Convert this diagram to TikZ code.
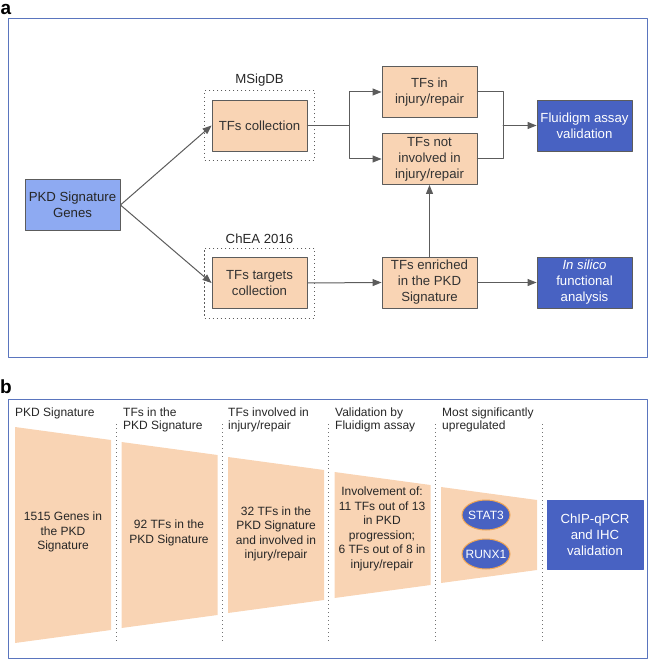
\documentclass[tikz,border=0pt]{standalone}
\usepackage{fontspec}
\setmainfont{Liberation Sans}
\usetikzlibrary{arrows.meta, calc, fit, shapes.geometric}

\definecolor{frameblue}{HTML}{5A75BE}
\definecolor{geneblue}{HTML}{8EAAF2}
\definecolor{deepblue}{HTML}{4862C2}
\definecolor{peach}{HTML}{F9D4B4}
\definecolor{wire}{HTML}{5C5C5C}
\definecolor{rim}{HTML}{F0A654}

\begin{document}
\begin{tikzpicture}[line cap=round,line join=round,>={Triangle[length=9pt,width=7pt]},x=1pt,y=-1pt,
  box/.style={draw=wire,line width=0.9pt,minimum width=95pt,minimum height=51pt,inner sep=1pt,align=center,font=\fontsize{13.2}{16}\selectfont},
  tfbox/.style={box,fill=peach,text=black!80},
  genebox/.style={box,fill=geneblue,text=black!85},
  resbox/.style={box,fill=deepblue,text=white},
  dbbox/.style={draw=wire,line width=0.9pt,dash pattern=on 1.3pt off 2.7pt,line cap=butt,inner xsep=7pt,inner ysep=9pt},
  wirearrow/.style={draw=wire,line width=1pt},
  sepline/.style={draw=black!55,line width=0.9pt,dash pattern=on 1.3pt off 2.7pt,line cap=butt},
  head/.style={anchor=north west,align=left,inner sep=0pt,font=\fontsize{12}{13.5}\selectfont,text=black!85},
  inner/.style={align=center,inner sep=0pt,font=\fontsize{12}{14.5}\selectfont,text=black!85},
  tf/.style={ellipse,fill=deepblue,draw=rim,line width=1pt,text=white,inner xsep=-3.5pt,inner ysep=0pt,minimum width=48pt,minimum height=30pt,font=\fontsize{12}{14}\selectfont}]

\useasboundingbox (0,0) rectangle (649,660);

% panel a
\node[font=\bfseries\fontsize{19}{19}\selectfont,inner sep=0pt] (panela) at (6,9) {a};
\draw[frameblue,line width=1pt] (8,19) rectangle (647,357);

\node[genebox] (pkd) at (72.5,205) {PKD Signature\\Genes};
\node[tfbox] (coll) at (259.5,125.5) {TFs collection};
\node[tfbox] (targ) at (259.5,283) {TFs targets\\collection};
\node[tfbox] (inj) at (429.5,92) {TFs in\\injury/repair};
\node[tfbox] (notinj) at (429.5,159) {TFs not\\involved in\\injury/repair};
\node[tfbox] (enr) at (429.5,282.5) {TFs enriched\\in the PKD\\Signature};
\node[resbox] (flu) at (584.5,125.5) {Fluidigm assay\\validation};
\node[resbox] (sil) at (584.5,282.5) {\textit{In silico}\\functional\\analysis};

\node[dbbox,fit=(coll),label={[font=\fontsize{13.2}{16}\selectfont,text=black!85,label distance=0pt]above:MSigDB}] (msig) {};
\node[dbbox,fit=(targ),label={[font=\fontsize{13.2}{16}\selectfont,text=black!85,label distance=0pt]above:ChEA 2016}] (chea) {};

\coordinate (split) at (349,125.5);
\coordinate (join) at (503,125.5);

\draw[wirearrow,->] (pkd.east) -- (coll.west);
\draw[wirearrow,->] (pkd.east) -- (targ.west);
\draw[wirearrow] (coll.east) -- (split);
\draw[wirearrow,->] (split) |- (inj.west);
\draw[wirearrow,->] (split) |- (notinj.west);
\draw[wirearrow] (inj.east) -| (join);
\draw[wirearrow] (notinj.east) -| (join);
\draw[wirearrow,->] (join) -- (flu.west);
\draw[wirearrow,->] (targ.east) -- (enr.west);
\draw[wirearrow,->] (enr.east) -- (sil.west);
\draw[wirearrow,->] (enr.north) -- (notinj.south);

% panel b
\node[font=\bfseries\fontsize{19}{19}\selectfont,inner sep=0pt] (panelb) at (6,387) {b};
\draw[frameblue,line width=1pt] (8,399) rectangle (647,658);

\foreach \i in {0,...,4}{
  \pgfmathsetmacro{\xl}{15+106.5*\i}
  \fill[peach] (\xl,427+15*\i) -- (\xl+96,440+15*\i) -- (\xl+96,630-15*\i) -- (\xl,643-15*\i) -- cycle;
}
\foreach \x in {116,222,328,435,542}
  \draw[sepline] (\x,424) -- (\x,643);

\node[head] (h1) at (15,407.5) {PKD Signature};
\node[head] (h2) at (123,407.5) {TFs in the\\PKD Signature};
\node[head] (h3) at (228,407.5) {TFs involved in\\injury/repair};
\node[head] (h4) at (335,407.5) {Validation by\\Fluidigm assay};
\node[head] (h5) at (442,407.5) {Most significantly\\upregulated};

\node[inner] (genes) at (63,532) {1515 Genes in\\the PKD\\Signature};
\node[inner] (tfsig) at (169,533) {92 TFs in the\\PKD Signature};
\node[inner] (tfinj) at (276,534) {32 TFs in the\\PKD Signature\\and involved in\\injury/repair};
\node[inner] (fluid) at (382,529) {Involvement of:\\11 TFs out of 13\\in PKD\\progression;\\6 TFs out of 8 in\\injury/repair};
\node[tf] (stat) at (486,515) {STAT3};
\node[tf] (runx) at (486,554) {RUNX1};
\node[resbox,draw=deepblue,minimum width=96pt,minimum height=69pt] (chip) at (595,534.5) {ChIP-qPCR\\and IHC\\validation};

\end{tikzpicture}
\end{document}
